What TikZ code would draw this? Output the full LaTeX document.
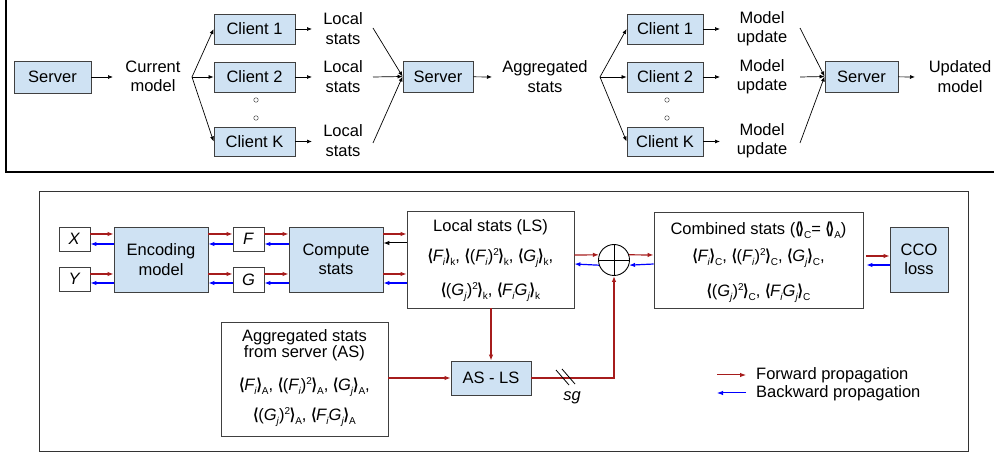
\documentclass[tikz,border=0pt]{standalone}
\usepackage{fontspec}
\setmainfont{Liberation Sans}
\newfontfamily\brk{DejaVu Sans}
\usetikzlibrary{arrows.meta,calc}
\definecolor{boxblue}{HTML}{CFE2F3}
\definecolor{fwd}{HTML}{A61C1C}
\definecolor{bwd}{HTML}{0000FF}
\newcommand{\lb}{\kern-0.3pt\scalebox{0.8}[1]{\brk\bfseries ⟨}\kern-0.6pt}
\newcommand{\rb}{\kern-0.6pt\scalebox{0.8}[1]{\brk\bfseries ⟩}\kern-0.3pt}
\newcommand{\mysub}[1]{\raisebox{-0.45ex}{\fontsize{10}{10}\selectfont #1}}
\newcommand{\mysup}[1]{\raisebox{0.75ex}{\fontsize{10}{10}\selectfont #1}}
\newcommand{\ang}[2]{\lb#1\rb\mysub{#2}}
\newcommand{\Fi}{\textit{F}\kern-0.8pt\mysub{\textit{i}}}
\newcommand{\Gj}{\textit{G}\mysub{\textit{j}}}
\newcommand{\sq}{\mysup{2}}
\begin{document}
\begin{tikzpicture}[x=1pt,y=-1pt,
 every node/.style={font=\fontsize{16.5}{19.5}\selectfont},
 bbox/.style={draw=black!75,line width=0.8pt,fill=boxblue,inner sep=0pt,align=center},
 wbox/.style={draw=black!75,line width=0.8pt,fill=white,inner sep=0pt,align=center},
 lbl/.style={align=center,inner sep=0pt},
 txt/.style={inner sep=0pt},
 arr/.style={-{Latex[length=5pt,width=4pt]},line width=0.7pt},
 fw/.style={draw=fwd,-{Latex[length=6pt,width=4.5pt]},line width=1.2pt},
 bw/.style={draw=bwd,-{Latex[length=6pt,width=4.5pt]},line width=1.2pt},
 bk/.style={draw=black,-{Latex[length=6pt,width=4.5pt]},line width=1pt},
 dot/.style={circle,draw=black!70,line width=0.5pt,minimum size=4.5pt,inner sep=0pt}
]
\useasboundingbox (0,0) rectangle (994,454);

% ---------------- top panel ----------------
\draw[line width=1.3pt] (6,0) -- (6,172) -- (994,172);

\node[bbox,minimum width=77,minimum height=32] (s1) at (52.5,77) {Server};
\node[lbl] (cm) at (153,76.5) {Current\\model};
\coordinate (cma) at (113,77);
\draw[arr] (s1) -- (cma);

\node[bbox,minimum width=81,minimum height=30] (c1) at (254.5,29) {Client 1};
\node[bbox,minimum width=81,minimum height=30] (c2) at (254.5,77) {Client 2};
\node[bbox,minimum width=81,minimum height=29] (cK) at (254.5,141.5) {Client K};
\node[dot] (d1) at (256,100) {};
\node[dot] (d2) at (256,118) {};
\coordinate (f1) at (192,77);
\draw[arr] (f1) -- (c1.west);
\draw[arr] (f1) -- (c2.west);
\draw[arr] (f1) -- (cK.west);

\coordinate (a1) at (312,29);
\coordinate (a2) at (312,77);
\coordinate (a3) at (312,141.5);
\draw[arr] (c1) -- (a1);
\draw[arr] (c2) -- (a2);
\draw[arr] (cK) -- (a3);
\node[lbl] (ls1) at (343,28.5) {Local\\stats};
\node[lbl] (ls2) at (343,76.5) {Local\\stats};
\node[lbl] (ls3) at (343,140.5) {Local\\stats};

\node[bbox,minimum width=70,minimum height=31] (s2) at (438,76.5) {Server};
\coordinate (l1) at (373,28);
\coordinate (l2) at (373,77);
\coordinate (l3) at (373,143);
\draw[arr] (l1) -- (s2.west);
\draw[arr] (l2) -- (s2.west);
\draw[arr] (l3) -- (s2.west);
\coordinate (s2a) at (492,77);
\draw[arr] (s2) -- (s2a);
\node[lbl] (ag) at (545,76.5) {Aggregated\\stats};

\node[bbox,minimum width=76,minimum height=30] (e1) at (665,29) {Client 1};
\node[bbox,minimum width=76,minimum height=30] (e2) at (665,77) {Client 2};
\node[bbox,minimum width=76,minimum height=29] (eK) at (665,141.5) {Client K};
\node[dot] (d3) at (667,100) {};
\node[dot] (d4) at (667,118) {};
\coordinate (f2) at (600,77);
\draw[arr] (f2) -- (e1.west);
\draw[arr] (f2) -- (e2.west);
\draw[arr] (f2) -- (eK.west);
\coordinate (b1) at (720,29);
\coordinate (b2) at (720,77);
\coordinate (b3) at (720,141.5);
\draw[arr] (e1) -- (b1);
\draw[arr] (e2) -- (b2);
\draw[arr] (eK) -- (b3);
\node[lbl] (mu1) at (762,28.5) {Model\\update};
\node[lbl] (mu2) at (762,76.5) {Model\\update};
\node[lbl] (mu3) at (762,140.5) {Model\\update};

\node[bbox,minimum width=73,minimum height=31] (s3) at (861.5,76.5) {Server};
\coordinate (m1) at (800,28);
\coordinate (m2) at (800,77);
\coordinate (m3) at (800,143);
\draw[arr] (m1) -- (s3.west);
\draw[arr] (m2) -- (s3.west);
\draw[arr] (m3) -- (s3.west);
\coordinate (s3a) at (915,77);
\draw[arr] (s3) -- (s3a);
\node[lbl] (um) at (960,76.5) {Updated\\model};

% ---------------- bottom panel ----------------
\draw[line width=1pt,draw=black!80] (39,192) rectangle (968,451);

\node[wbox,minimum width=31,minimum height=24] (X) at (74.5,239) {\textit{X}};
\node[wbox,minimum width=31,minimum height=24] (Y) at (74.5,279) {\textit{Y}};
\node[bbox,minimum width=94,minimum height=65] (enc) at (161,259.5) {Encoding\\model};
\node[wbox,minimum width=31,minimum height=24] (F) at (248.5,239) {\textit{F}};
\node[wbox,minimum width=31,minimum height=25] (G) at (248.5,279.5) {\textit{G}};
\node[bbox,minimum width=94,minimum height=65] (cs) at (336,259.5) {Compute\\stats};
\node[wbox,minimum width=167,minimum height=97] (LS) at (490.5,259.5) {};
\node[txt] (LSt) at (490.5,227) {Local stats (LS)};
\node[txt] (LS1) at (490.5,258) {\ang{\Fi}{k}, \ang{(\Fi)\sq}{k}, \ang{\Gj}{k},};
\node[txt] (LS2) at (490.5,292) {\ang{(\Gj)\sq}{k}, \ang{\Fi\Gj}{k}};
\node[circle,draw=black,line width=0.9pt,minimum size=31,inner sep=0pt] (circ) at (614,260) {};
\draw[line width=0.9pt] (circ.north) -- (circ.south) (circ.west) -- (circ.east);
\node[wbox,minimum width=209,minimum height=96] (cb) at (758.5,260) {};
\node[txt] (cbt) at (758.5,230) {Combined stats (\lb\kern-1.5pt\rb\mysub{C}= \lb\kern-1.5pt\rb\mysub{A})};
\node[txt] (cb1) at (758.5,258) {\ang{\Fi}{C}, \ang{(\Fi)\sq}{C}, \ang{\Gj}{C},};
\node[txt] (cb2) at (758.5,293) {\ang{(\Gj)\sq}{C}, \ang{\Fi\Gj}{C}};
\node[bbox,minimum width=58,minimum height=65] (cco) at (919,259.5) {CCO\\loss};
\node[wbox,minimum width=167,minimum height=114] (AS) at (304.5,379) {};
\node[lbl,font=\fontsize{16.5}{16}\selectfont] (ASt) at (304.5,345) {Aggregated stats\\from server (AS)};
\node[txt] (AS1) at (304.5,387) {\ang{\Fi}{A}, \ang{(\Fi)\sq}{A}, \ang{\Gj}{A},};
\node[txt] (AS2) at (304.5,417) {\ang{(\Gj)\sq}{A}, \ang{\Fi\Gj}{A}};
\node[bbox,minimum width=80,minimum height=34] (asls) at (491,378) {AS - LS};

% forward / backward rows
\draw[fw] (X.east |- 0,234) -- (enc.west |- 0,234);
\draw[bw] (enc.west |- 0,244) -- (X.east |- 0,244);
\draw[fw] (Y.east |- 0,274) -- (enc.west |- 0,274);
\draw[bw] (enc.west |- 0,283) -- (Y.east |- 0,283);
\draw[fw] (enc.east |- 0,234) -- (F.west |- 0,234);
\draw[bw] (F.west |- 0,244) -- (enc.east |- 0,244);
\draw[fw] (enc.east |- 0,274) -- (G.west |- 0,274);
\draw[bw] (G.west |- 0,283) -- (enc.east |- 0,283);
\draw[fw] (F.east |- 0,234) -- (cs.west |- 0,234);
\draw[bw] (cs.west |- 0,244) -- (F.east |- 0,244);
\draw[fw] (G.east |- 0,274) -- (cs.west |- 0,274);
\draw[bw] (cs.west |- 0,283) -- (G.east |- 0,283);
\draw[fw] (cs.east |- 0,234) -- (LS.west |- 0,234);
\draw[bk] (LS.west |- 0,243) -- (cs.east |- 0,243);
\draw[fw] (cs.east |- 0,274) -- (LS.west |- 0,274);
\draw[bw] (LS.west |- 0,283) -- (cs.east |- 0,283);
\draw[fw] (LS.east |- 0,255) -- (circ.161);
\draw[bw] (circ.199) -- (LS.east |- 0,264);
\draw[fw] (circ.19) -- (cb.west |- 0,255);
\draw[bw] (cb.west |- 0,264) -- (circ.341);
\draw[fw] ([xshift=3pt]cb.east |- 0,256) -- (cco.west |- 0,256);
\draw[bw] (cco.west |- 0,265) -- ([xshift=3pt]cb.east |- 0,265);
\draw[fw] (asls.north |- LS.south) -- (asls.north);
\draw[fw] (AS.east |- 0,378) -- (asls.west);
\draw[fw] (asls.east) -| (circ.south);
\draw[line width=0.8pt] (556,370) -- (569,385);
\draw[line width=0.8pt] (562,369) -- (575,384);
\node[txt,font=\fontsize{16.5}{19}\selectfont\itshape] (sg) at (572,398) {sg};

% legend
\coordinate (lg1a) at (717,375);
\coordinate (lg1b) at (746,375);
\coordinate (lg2a) at (746,393);
\coordinate (lg2b) at (717,393);
\draw[fw,line width=1pt] (lg1a) -- (lg1b);
\draw[bw,line width=1pt] (lg2a) -- (lg2b);
\node[txt,anchor=west] (lgt1) at (756,375) {Forward propagation};
\node[txt,anchor=west] (lgt2) at (756,393) {Backward propagation};
\end{tikzpicture}
\end{document}
